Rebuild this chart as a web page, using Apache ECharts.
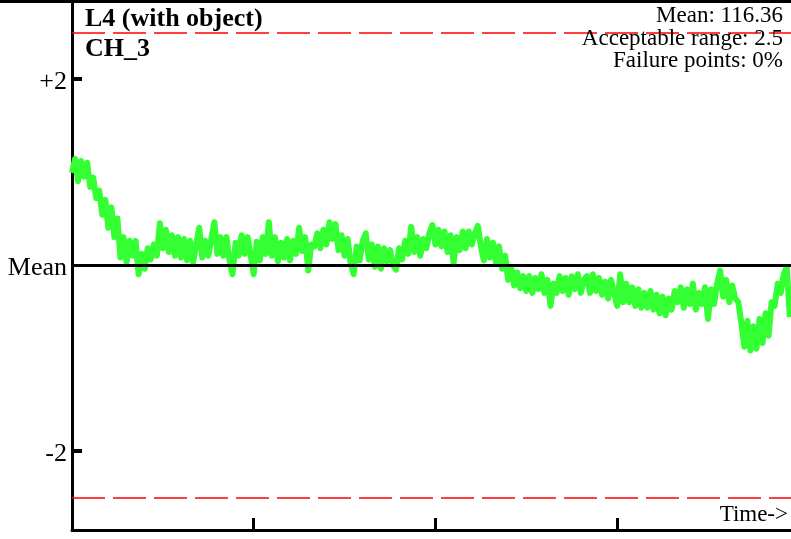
<!DOCTYPE html>
<html><head><meta charset="utf-8">
<script src="https://cdn.jsdelivr.net/npm/echarts@6/dist/echarts.min.js"></script>
<style>html,body{margin:0;padding:0;background:#fff}#c{width:791px;height:539px}</style>
</head><body><div id="c"></div>
<script>
const chartTitle = 'L4 (with object)';
const channelName = 'CH_3';
const statsLines = ['Mean: 116.36', 'Acceptable range: 2.5', 'Failure points: 0%'];
const xAxisName = 'Time->';
const yTickValues = [-2, 0, 2];
const yTickLabels = ['-2', 'Mean', '+2'];
const xTickValues = [0, 60, 120, 180];
const meanDeviation = 0;
const limitValues = [2.5, -2.5];
const deviation = [
  0.99,1.14,0.90,1.12,0.95,1.10,0.84,0.94,0.72,0.80,
  0.54,0.70,0.40,0.62,0.30,0.50,0.08,0.30,0.03,0.26,
  0.10,0.26,-0.10,0.12,-0.04,0.18,0.06,0.22,0.10,0.45,
  0.18,0.38,0.14,0.32,0.10,0.30,0.08,0.28,0.05,0.26,
  0.03,0.22,0.40,0.08,0.26,0.10,0.28,0.46,0.12,0.30,
  0.10,0.30,0.05,-0.10,0.24,0.10,0.32,0.12,0.30,0.10,
  -0.10,0.25,0.05,0.30,0.12,0.46,0.10,0.30,0.04,0.24,
  0.08,0.28,0.05,0.26,0.12,0.40,0.15,0.30,-0.06,0.22,
  0.20,0.34,0.18,0.38,0.22,0.46,0.28,0.44,0.16,0.32,
  0.10,0.28,0.02,-0.10,0.20,0.05,0.26,0.34,0.06,0.22,
  -0.02,0.20,-0.04,0.18,0.04,0.16,0.00,-0.05,0.18,0.06,
  0.26,0.12,0.41,0.14,0.30,0.10,0.28,0.18,0.34,0.43,
  0.22,0.38,0.20,0.36,0.14,0.32,0.02,0.30,0.16,0.36,
  0.18,0.36,0.22,0.34,0.42,0.20,0.05,0.28,0.08,0.24,
  0.02,0.20,-0.04,0.10,-0.16,-0.02,-0.22,-0.08,-0.25,-0.12,
  -0.28,-0.12,-0.30,-0.14,-0.26,-0.10,-0.30,-0.16,-0.44,-0.20,
  -0.30,-0.12,-0.28,-0.14,-0.32,-0.12,-0.26,-0.10,-0.30,-0.16,
  -0.12,-0.30,-0.10,-0.28,-0.14,-0.32,-0.18,-0.36,-0.16,-0.30,
  -0.44,-0.10,-0.40,-0.20,-0.40,-0.24,-0.44,-0.26,-0.46,-0.30,
  -0.46,-0.28,-0.48,-0.32,-0.52,-0.34,-0.54,-0.36,-0.48,-0.28,
  -0.40,-0.24,-0.46,-0.26,-0.42,-0.20,-0.48,-0.30,-0.42,-0.24,
  -0.58,-0.26,-0.42,-0.20,-0.06,-0.34,-0.16,-0.40,-0.22,-0.36,
  -0.40,-0.62,-0.88,-0.60,-0.92,-0.66,-0.90,-0.58,-0.84,-0.52,
  -0.76,-0.40,-0.44,-0.20,-0.30,-0.10,-0.02,-0.56
];

const serif = "'Liberation Serif','Times New Roman',serif";
const chart = echarts.init(document.getElementById('c'), null, {renderer: 'canvas'});
const option = {
  animation: false,
  backgroundColor: '#ffffff',
  grid: {left: 72, right: 0, top: 0, bottom: 9, containLabel: false},
  xAxis: {
    type: 'value', min: 0, max: 237.4,
    splitLine: {show: false},
    axisLine: {show: true, onZero: false, lineStyle: {color: '#000', width: 3}},
    axisTick: {show: true, inside: true, length: 12, customValues: xTickValues, lineStyle: {color: '#000', width: 3}},
    axisLabel: {show: false}
  },
  yAxis: {
    type: 'value', min: -2.85, max: 2.85,
    splitLine: {show: false},
    axisLine: {show: true, onZero: false, lineStyle: {color: '#000', width: 3}},
    axisTick: {show: true, inside: true, length: 10, customValues: [yTickValues[0], yTickValues[2]], lineStyle: {color: '#000', width: 4}},
    axisLabel: {
      show: true, customValues: yTickValues, margin: 5, verticalAlign: 'top', lineHeight: 6,
      color: '#000', fontFamily: serif, fontSize: 26,
      formatter: function (v) { const k = yTickValues.indexOf(v); return k >= 0 ? yTickLabels[k] : ''; }
    }
  },
  series: [
    {
      type: 'line', z: 2,
      data: deviation.map((v, i) => [i, v]),
      showSymbol: false, symbol: 'none',
      lineStyle: {color: '#33ff33', width: 6, join: 'round'},
      markLine: {
        silent: true, symbol: 'none', label: {show: false},
        lineStyle: {color: '#ff0000', width: 1.5, type: [33, 8]},
        data: limitValues.map(v => ({yAxis: v}))
      }
    },
    {
      type: 'line', z: 3, data: [],
      markLine: {
        silent: true, symbol: 'none', label: {show: false},
        lineStyle: {color: '#000', width: 3, type: 'solid'},
        data: [{yAxis: meanDeviation}]
      }
    }
  ],
  graphic: [
    {type: 'rect', left: 0, top: 0, shape: {width: 791, height: 3}, style: {fill: '#000'}, z: 10},
    {type: 'text', x: 85, y: 19, style: {text: chartTitle, font: 'bold 26px ' + serif, fill: '#000', align: 'left', verticalAlign: 'middle'}, z: 10},
    {type: 'text', x: 85, y: 49, style: {text: channelName, font: 'bold 26px ' + serif, fill: '#000', align: 'left', verticalAlign: 'middle'}, z: 10},
    {type: 'text', x: 783, y: 16, style: {text: statsLines[0], font: '23px ' + serif, fill: '#000', align: 'right', verticalAlign: 'middle'}, z: 10},
    {type: 'text', x: 783, y: 39, style: {text: statsLines[1], font: '23px ' + serif, fill: '#000', align: 'right', verticalAlign: 'middle'}, z: 10},
    {type: 'text', x: 783, y: 61, style: {text: statsLines[2], font: '23px ' + serif, fill: '#000', align: 'right', verticalAlign: 'middle'}, z: 10},
    {type: 'text', x: 788, y: 515, style: {text: xAxisName, font: '23px ' + serif, fill: '#000', align: 'right', verticalAlign: 'middle'}, z: 10}
  ]
};
chart.setOption(option);
</script>
</body></html>
